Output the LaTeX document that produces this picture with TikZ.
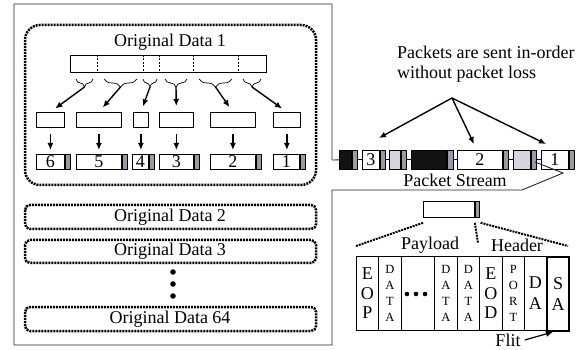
\documentclass[tikz,border=0pt]{standalone}
\usepackage{fontspec}
\setmainfont{Liberation Serif}
\usetikzlibrary{arrows.meta,decorations.pathreplacing,calc}
\definecolor{capgray}{RGB}{150,155,168}
\definecolor{lightpk}{RGB}{212,214,220}
\definecolor{darkpk}{RGB}{18,18,18}
\begin{document}
\begin{tikzpicture}[x=1pt,y=-1pt,
  every node/.style={font=\fontsize{18}{20}\selectfont, inner sep=0pt},
  bx/.style={draw, line width=0.8pt, minimum height=15pt, anchor=north west},
  capbox/.style={draw, line width=0.8pt, fill=capgray, minimum width=5pt, minimum height=15pt, anchor=north west},
  pk/.style={draw, line width=0.8pt, minimum height=19pt, anchor=north west},
  pkcap/.style={draw, line width=0.8pt, fill=capgray, minimum height=19pt, anchor=north west},
  dotline/.style={line width=2.5pt, dash pattern=on 2pt off 1pt, black},
  outline/.style={line width=0.9pt, black!85},
  arr/.style={line width=1.4pt, -{Latex[length=7pt,width=6pt]}},
  cell/.style={draw, line width=0.8pt, minimum height=74pt, anchor=north west, align=center},
  big/.style={font=\fontsize{18}{19.5}\selectfont},
  small/.style={font=\fontsize{12.5}{16}\selectfont},
  brc/.style={decorate, decoration={brace, mirror, amplitude=8pt}, line width=0.7pt}
]
\useasboundingbox (0,0) rectangle (579,350);

% ---------- left area ----------
\draw[dotline, rounded corners=15pt] (25,25) rectangle (316,185);
\node (od1) at (170,42) {Original Data 1};

% top data bar
\node[bx, minimum width=196pt, minimum height=17pt] (bar) at (70,55) {};
\foreach \x in {97,143,159,193,238}
  \draw[line width=0.8pt, dash pattern=on 2pt off 1.5pt] (\x,55) -- (\x,72);

% braces
\draw[brc] (76,79) -- (93,79);
\draw[brc] (104,79) -- (137,79);
\draw[brc] (143,79) -- (157,79);
\draw[brc] (165,79) -- (187,79);
\draw[brc] (199,79) -- (232,79);
\draw[brc] (243,79) -- (261,79);
\coordinate (t1) at (84.5,87);
\coordinate (t2) at (120.5,87);
\coordinate (t3) at (150,87);
\coordinate (t4) at (176,87);
\coordinate (t5) at (215.5,87);
\coordinate (t6) at (252,87);

% middle boxes
\node[bx, minimum width=28pt] (m1) at (36,112) {};
\node[bx, minimum width=45pt] (m2) at (76,112) {};
\node[bx, minimum width=15pt] (m3) at (133,112) {};
\node[bx, minimum width=34pt] (m4) at (159,112) {};
\node[bx, minimum width=45pt] (m5) at (210,112) {};
\node[bx, minimum width=27pt] (m6) at (273,112) {};

\draw[arr, shorten >=6pt] (t1) -- (m1.north);
\draw[arr, shorten >=6pt] (t2) -- (m2.north);
\draw[arr, shorten >=6pt] (t3) -- (m3.north);
\draw[arr, shorten >=6pt] (t4) -- (m4.north);
\draw[arr, shorten >=6pt] (t5) -- (m5.north);
\draw[arr, shorten >=6pt] (t6) -- (m6.north);

% bottom packets
\node[bx, minimum width=28pt] (b6) at (36,154) {6};
\node[capbox] (c6) at (b6.north east) {};
\node[bx, minimum width=45pt] (b5) at (76,154) {5};
\node[capbox] (c5) at (b5.north east) {};
\node[bx, minimum width=16pt] (b4) at (132,154) {4};
\node[capbox] (c4) at (b4.north east) {};
\node[bx, minimum width=34pt] (b3) at (159,154) {3};
\node[capbox] (c3) at (b3.north east) {};
\node[bx, minimum width=45pt] (b2) at (210,154) {2};
\node[capbox] (c2) at (b2.north east) {};
\node[bx, minimum width=26pt] (b1) at (273,154) {1};
\node[capbox] (c1) at (b1.north east) {};

\foreach \i/\j in {1/6,2/5,3/4,4/3,5/2,6/1}
  \draw[arr, shorten <=6pt, shorten >=4pt] (m\i.south) -- (m\i.south |- b\j.north);

% other data blocks
\draw[dotline, rounded corners=5pt] (25,205) rectangle (316,229);
\node (od2) at (170,217) {Original Data 2};
\draw[dotline, rounded corners=5pt] (25,240) rectangle (316,263);
\node (od3) at (170,251.5) {Original Data 3};
\fill (173,272) circle (2.8pt);
\fill (173,284) circle (2.8pt);
\fill (173,296) circle (2.8pt);
\draw[dotline, rounded corners=5pt] (25,307) rectangle (316,331);
\node (od64) at (170,319) {Original Data 64};

% ---------- packet stream ----------
\node[pk, fill=darkpk, minimum width=12pt] (p1) at (339,150) {};
\node[pkcap, minimum width=5pt] (q1) at (p1.north east) {};
\node[pk, minimum width=17pt] (p2) at (362,150) {3};
\node[pkcap, minimum width=5pt] (q2) at (p2.north east) {};
\node[pk, fill=lightpk, minimum width=11pt] (p3) at (389,150) {};
\node[pkcap, minimum width=5pt] (q3) at (p3.north east) {};
\node[pk, fill=darkpk, minimum width=35pt] (p4) at (411,150) {};
\node[pkcap, minimum width=6pt] (q4) at (p4.north east) {};
\node[pk, minimum width=45pt] (p5) at (457,150) {2};
\node[pkcap, minimum width=5pt] (q5) at (p5.north east) {};
\node[pk, fill=lightpk, minimum width=17pt] (p6) at (513,150) {};
\node[pkcap, minimum width=5pt] (q6) at (p6.north east) {};
\node[pk, minimum width=27pt] (p7) at (541,150) {1};
\node[pkcap, minimum width=5pt] (q7) at (p7.north east) {};

\draw[line width=0.8pt] (q1.east) -- (p2.west);
\draw[line width=0.8pt] (q2.east) -- (p3.west);
\draw[line width=0.8pt] (q3.east) -- (p4.west);
\draw[line width=0.8pt] (q4.east) -- (p5.west);
\draw[line width=0.8pt] (q5.east) -- (p6.west);
\draw[line width=0.8pt] (q6.east) -- (p7.west);

% outline with packet stream arrow
\draw[outline] (p1.west) -- (332,160) -- (332,4) -- (14,4) -- (14,345) -- (332,345)
  -- (332,190) -- (522,190) -- (563,173) -- (535,162);
\node (ps) at (455,180) {Packet Stream};

% note
\node[anchor=base west, align=left] (note) at (397,79) {Packets are sent in-order\\without packet loss};
\coordinate (src) at (452,98);
\coordinate (e1) at (379,138);
\coordinate (e2) at (474,144);
\coordinate (e3) at (546,144);
\draw[arr] (src) -- (e1);
\draw[arr] (src) -- (e2);
\draw[arr] (src) -- (e3);

% flit
\node[bx, minimum width=51pt, minimum height=16pt] (flit) at (423,201) {};
\node[capbox, minimum width=4pt, minimum height=16pt] (fcap) at (flit.north east) {};

\coordinate (d1) at (356,246);
\coordinate (d2) at (478,243);
\coordinate (d3) at (568,246);
\draw[dotline, line width=2pt] ($(flit.south west)+(0,5)$) -- (d1);
\draw[dotline, line width=2pt] ($(flit.south east)+(0,5)$) -- (d2);
\draw[dotline, line width=2pt] ($(fcap.south east)+(1,5)$) -- (d3);

\node (pl) at (430,245) {Payload};
\node (hd) at (517,245) {Header};

% table
\node[cell, minimum width=22pt, big] (eop) at (356,256) {E\\O\\P};
\node[cell, minimum width=23pt, small] (da1) at (378,256) {D\\A\\T\\A};
\node[cell, minimum width=33pt] (dots) at (401,256) {};
\node[cell, minimum width=23pt, small] (da2) at (434,256) {D\\A\\T\\A};
\node[cell, minimum width=22pt, small] (da3) at (457,256) {D\\A\\T\\A};
\node[cell, minimum width=23pt, big] (eod) at (479,256) {E\\O\\D};
\node[cell, minimum width=22pt, small] (port) at (502,256) {P\\O\\R\\T};
\node[cell, minimum width=22pt, font=\fontsize{18}{21}\selectfont] (dacell) at (524,256) {D\\A};
\node[cell, minimum width=22pt, line width=2.2pt, font=\fontsize{18}{21}\selectfont] (sa) at (546,256) {S\\A};
\fill (407,294) circle (2.3pt);
\fill (416,294) circle (2.3pt);
\fill (425,294) circle (2.3pt);

\node (fl) at (508,340) {Flit};
\coordinate (fe) at (553,332);
\draw[arr, line width=1.2pt] (fl.east) ++(4,0) -- (fe);
\end{tikzpicture}
\end{document}
